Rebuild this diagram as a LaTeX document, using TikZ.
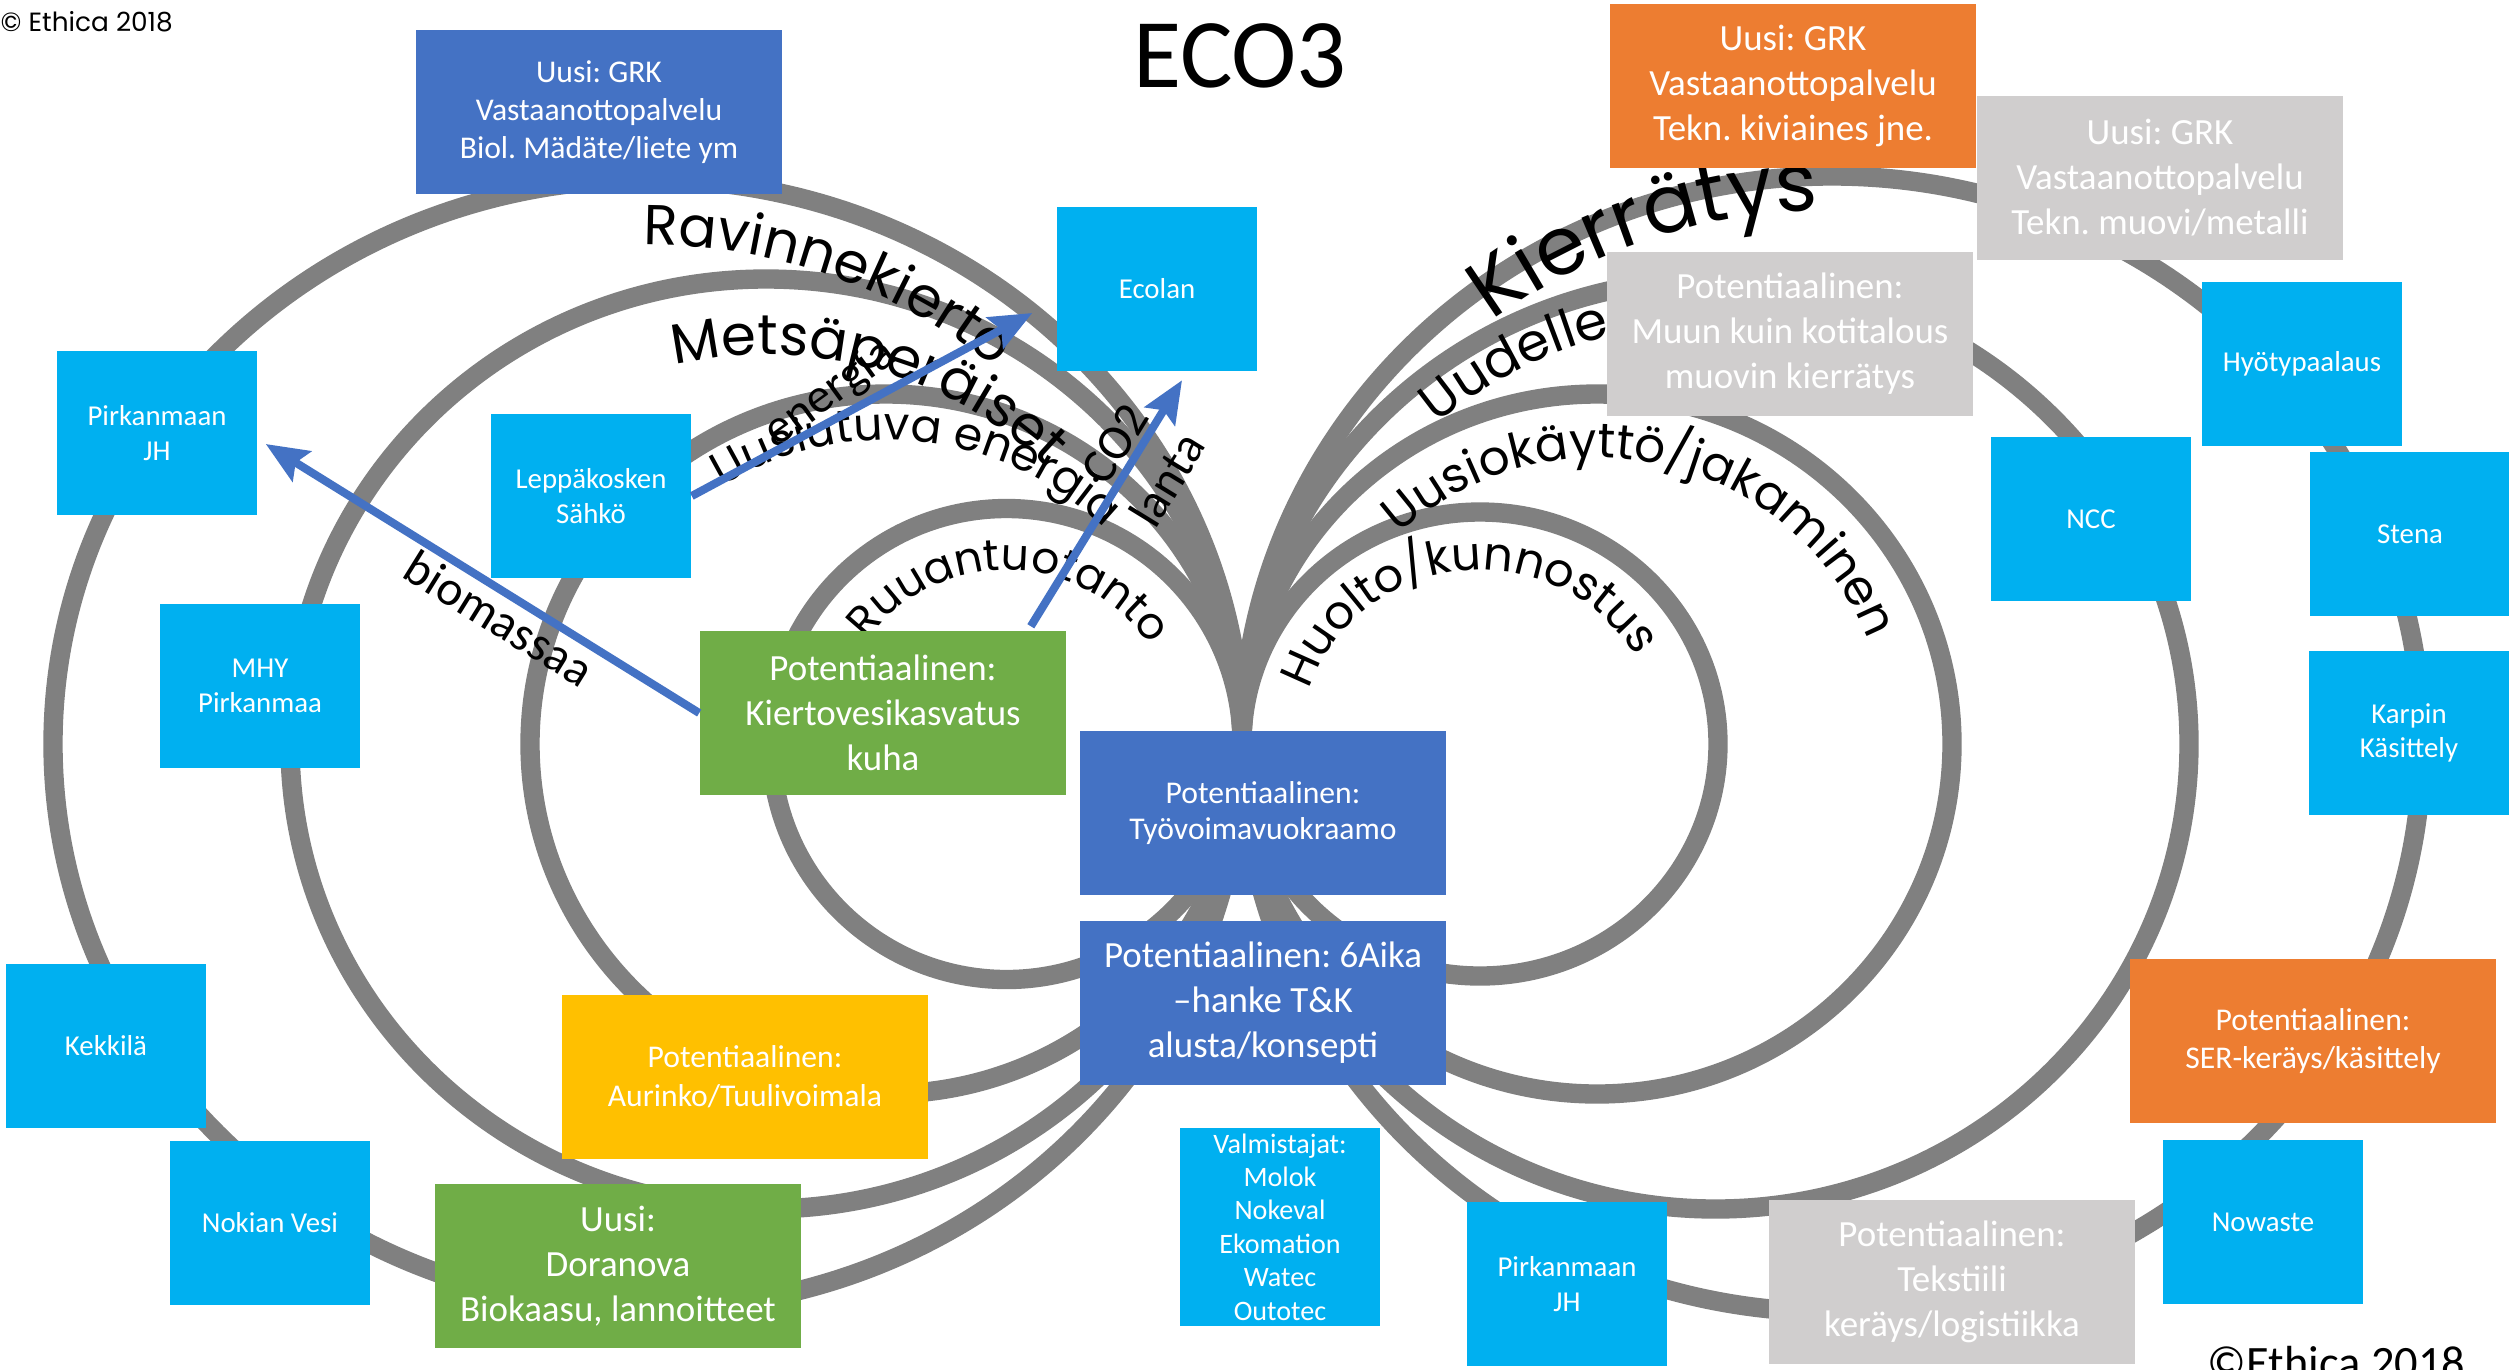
\documentclass[tikz,border=0pt]{standalone}
\usepackage{fontspec}
\newfontfamily\boxfont{Carlito}
\newfontfamily\curvefont{Poppins}
\usetikzlibrary{arrows.meta,calc,backgrounds,decorations.text}
\frenchspacing

\definecolor{firmcyan}{HTML}{00B0F0}
\definecolor{newblue}{HTML}{4472C4}
\definecolor{neworange}{HTML}{ED7D31}
\definecolor{newgreen}{HTML}{70AD47}
\definecolor{newyellow}{HTML}{FFC000}
\definecolor{newgrey}{HTML}{D0CECE}
\definecolor{loopgrey}{HTML}{808080}

\tikzset{
  bigbox/.style={rectangle, inner sep=1pt, align=center, text=white,
    minimum width=3.66cm, minimum height=1.64cm,
    font=\boxfont\fontsize{10.5}{12.8}\selectfont},
  smallbox/.style={bigbox, fill=firmcyan, minimum width=2cm, minimum height=1.63cm,
    font=\boxfont\fontsize{8.2}{9.8}\selectfont},
  loopline/.style={draw=loopgrey, line width=5.5pt},
  flow/.style={draw=newblue, line width=2.3pt, -{Stealth[length=12pt,width=10pt,inset=2pt]}},
  flowlabel/.style={font=\boxfont\fontsize{14}{14}\selectfont, inner sep=1pt},
}

\begin{document}
\begin{tikzpicture}[x=0.01cm, y=-0.01cm]
\useasboundingbox (0,0) rectangle (2509,1369);

\node[font=\boxfont\fontsize{28}{28}\selectfont] (title) at (1240,56) {ECO3};
\node[anchor=base west, inner sep=0pt, font=\curvefont\fontsize{7.5}{9}\selectfont] (copyl) at (0,31) {© Ethica 2018};
\node[anchor=base west, inner sep=0pt, font=\boxfont\fontsize{13.2}{15}\selectfont] (copyr) at (2207,1378) {©Ethica 2018};

% left side
\node[bigbox, fill=newblue, font=\boxfont\fontsize{9}{10.8}\selectfont] (grkbio) at (599,112) {Uusi: GRK\\Vastaanottopalvelu\\Biol. Mädäte/liete ym};
\node[smallbox] (ecolan) at (1157,289) {Ecolan};
\node[smallbox] (jhleft) at (157,433) {Pirkanmaan\\JH};
\node[smallbox] (lepp) at (591,496) {Leppäkosken\\Sähkö};
\node[smallbox] (mhy) at (260,686) {MHY\\Pirkanmaa};
\node[bigbox, fill=newgreen] (kuha) at (883,713) {Potentiaalinen:\\Kiertovesikasvatus\\kuha};
\node[smallbox] (kekkila) at (106,1046) {Kekkilä};
\node[smallbox] (nokia) at (270,1223) {Nokian Vesi};
\node[bigbox, fill=newyellow, font=\boxfont\fontsize{9}{11}\selectfont] (aurinko) at (745,1077) {Potentiaalinen:\\Aurinko/Tuulivoimala};
\node[bigbox, fill=newgreen] (doranova) at (618,1266) {Uusi:\\Doranova\\Biokaasu, lannoitteet};

% middle
\node[bigbox, fill=newblue, font=\boxfont\fontsize{9}{10.3}\selectfont] (tyo) at (1263,813) {Potentiaalinen:\\Työvoimavuokraamo};
\node[bigbox, fill=newblue] (aika) at (1263,1003) {Potentiaalinen: 6Aika\\–hanke T\&K\\alusta/konsepti};
\node[smallbox, minimum height=1.98cm, font=\boxfont\fontsize{8}{9.5}\selectfont] (valm) at (1280,1227) {Valmistajat:\\Molok\\Nokeval\\Ekomation\\Watec\\Outotec};
\node[smallbox] (jhbottom) at (1567,1284) {Pirkanmaan\\JH};

% right side
\node[bigbox, fill=neworange] (grkkivi) at (1793,86) {Uusi: GRK\\Vastaanottopalvelu\\Tekn. kiviaines jne.};
\node[bigbox, fill=newgrey] (grkmuovi) at (2160,178) {Uusi: GRK\\Vastaanottopalvelu\\Tekn. muovi/metalli};
\node[bigbox, fill=newgrey] (muovi) at (1790,334) {Potentiaalinen:\\Muun kuin kotitalous\\muovin kierrätys};
\node[smallbox] (hyoty) at (2302,364) {Hyötypaalaus};
\node[smallbox] (ncc) at (2091,519) {NCC};
\node[smallbox] (stena) at (2410,534) {Stena};
\node[smallbox] (karpin) at (2409,733) {Karpin\\Käsittely};
\node[bigbox, fill=neworange, font=\boxfont\fontsize{9}{11}\selectfont] (ser) at (2313,1041) {Potentiaalinen:\\SER-keräys/käsittely};
\node[smallbox] (nowaste) at (2263,1222) {Nowaste};
\node[bigbox, fill=newgrey] (tekstiili) at (1952,1282) {Potentiaalinen:\\Tekstiili\\keräys/logistiikka};

% flows
\coordinate (bioend) at ($(jhleft.east)+(8,11)$);
\coordinate (enend) at ($(ecolan.west)+(-24,24)$);
\coordinate (co2start) at ($(kuha.north east)+(-36,-4)$);
\coordinate (co2end) at ($(ecolan.south)+(25,9)$);
\draw[flow] (kuha.west) -- node[flowlabel, sloped, below, pos=0.43] {biomassaa} (bioend);
\draw[flow] (lepp.east) -- node[flowlabel, rotate=36, above=-1pt, pos=0.45] {energia} (enend);
\draw[flow] (co2start) -- node[flowlabel, sloped, above, pos=0.69] {CO2}
  node[flowlabel, sloped, below=4pt, pos=0.68] {lanta} (co2end);

\begin{pgfonlayer}{background}
\fill[white] (0,0) rectangle (2509,1369);
% loops
\draw[loopline] (1006.5,744) ellipse [x radius=235.5, y radius=235.5];
\draw[loopline] (886,744) ellipse [x radius=356, y radius=350];
\draw[loopline] (766,744) ellipse [x radius=476, y radius=465];
\draw[loopline] (647.5,744) ellipse [x radius=594.5, y radius=565];
\draw[loopline] (1480,744) ellipse [x radius=238, y radius=232];
\draw[loopline] (1597,744) ellipse [x radius=355, y radius=350];
\draw[loopline] (1715.5,744) ellipse [x radius=473.5, y radius=465];
\draw[loopline] (1832,744) ellipse [x radius=590, y radius=568];
% loop names
\path[decorate, decoration={text along path, text align=center,
  text={|\curvefont\fontsize{16}{16}\selectfont|Ravinnekierto}}]
  (647.5,744) ++(-129:528 and 499) arc[start angle=-129, end angle=-9, x radius=528, y radius=499];
\path[decorate, decoration={text along path, text align=center,
  text={|\curvefont\fontsize{16}{16}\selectfont|Metsäperäiset}}]
  (766,744) ++(-144:400 and 389) arc[start angle=-144, end angle=-4, x radius=400, y radius=389];
\path[decorate, decoration={text along path, text align=center,
  text={|\curvefont\fontsize{13}{13}\selectfont|Uusiutuva energia}}]
  (886,744) ++(-163:310 and 304) arc[start angle=-163, end angle=-4, x radius=310, y radius=304];
\path[decorate, decoration={text along path, text align=center,
  text={|\curvefont\fontsize{12.5}{12.5}\selectfont|Ruuantuotanto}}]
  (1006.5,744) ++(-174:174 and 174) arc[start angle=-174, end angle=-4, x radius=174, y radius=174];
\path[decorate, decoration={text along path, text align=center,
  text={|\curvefont\fontsize{23}{23}\selectfont|Kierrätys}}]
  (1832,744) ++(-170:556 and 534) arc[start angle=-170, end angle=-50, x radius=556, y radius=534];
\path[decorate, decoration={text along path, text align=center,
  text={|\curvefont\fontsize{15}{15}\selectfont|Uudelle}}]
  (1715.5,744) ++(-167:430 and 421) arc[start angle=-167, end angle=-68, x radius=430, y radius=421];
\path[decorate, decoration={text along path, text align=center,
  text={|\curvefont\fontsize{13.8}{13.8}\selectfont|Uusiokäyttö/jakaminen}}]
  (1597,744) ++(-163:291 and 286) arc[start angle=-163, end angle=9, x radius=291, y radius=286];
\path[decorate, decoration={text along path, text align=center,
  text={|\curvefont\fontsize{13.2}{13.2}\selectfont|Huolto/kunnostus}}]
  (1480,744) ++(-181:180 and 174) arc[start angle=-181, end angle=-11, x radius=180, y radius=174];
\end{pgfonlayer}
\end{tikzpicture}
\end{document}
